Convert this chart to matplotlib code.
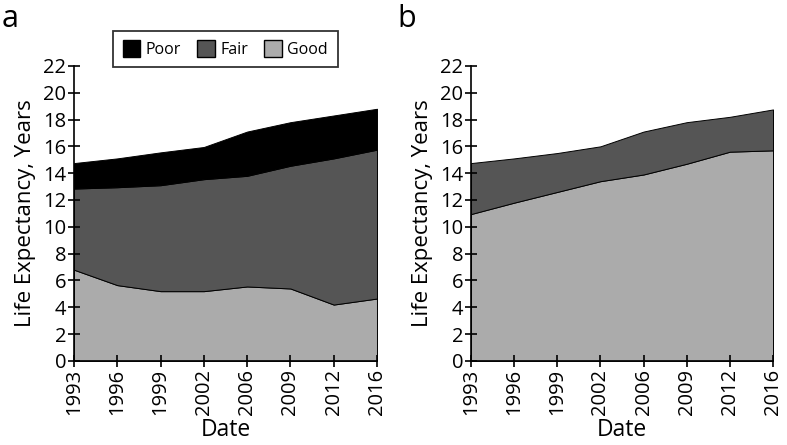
import matplotlib
matplotlib.use("Agg")
import matplotlib.pyplot as plt
from matplotlib.patches import Patch

plt.rcParams['font.family'] = ['Open Sans', 'DejaVu Sans']

years = ["1993", "1996", "1999", "2002", "2006", "2009", "2012", "2016"]

# Panel a (stacked components)
a_good = [6.8, 5.65, 5.2, 5.2, 5.55, 5.4, 4.2, 4.65]
a_fair = [6.05, 7.3, 7.9, 8.35, 8.25, 9.15, 10.9, 11.1]
a_poor = [1.9, 2.15, 2.45, 2.4, 3.3, 3.25, 3.2, 3.05]

# Panel b (stacked components)
b_good = [10.95, 11.8, 12.6, 13.4, 13.9, 14.7, 15.6, 15.7]
b_fair = [3.8, 3.3, 2.9, 2.6, 3.2, 3.1, 2.6, 3.05]

c_poor = "#000000"
c_fair = "#555555"
c_good = "#ababab"

fig = plt.figure(figsize=(7.87, 4.45), dpi=100)
axA = fig.add_axes([0.094, 0.189, 0.385, 0.663])
axB = fig.add_axes([0.5985, 0.189, 0.3837, 0.663])

x = list(range(len(years)))

axA.stackplot(x, a_good, a_fair, a_poor, colors=[c_good, c_fair, c_poor],
              edgecolor="black", linewidth=0.7)
axB.stackplot(x, b_good, b_fair, colors=[c_good, c_fair],
              edgecolor="black", linewidth=0.7)

for ax in (axA, axB):
    ax.set_xlim(0, len(years) - 1)
    ax.set_ylim(0, 22)
    ax.set_yticks(range(0, 23, 2))
    ax.set_xticks(x)
    ax.set_xticklabels(years, rotation=90)
    ax.tick_params(axis='both', direction='inout', length=8, width=1.2,
                   labelsize=14.5, pad=1.5)
    for s in ('top', 'right'):
        ax.spines[s].set_visible(False)
    for s in ('left', 'bottom'):
        ax.spines[s].set_linewidth(1.2)
    ax.set_ylabel("Life Expectancy, Years", fontsize=16, labelpad=5)
    ax.set_xlabel("Date", fontsize=16.5, labelpad=2)

handles = [Patch(facecolor=c_poor, edgecolor="black", label="Poor"),
           Patch(facecolor=c_fair, edgecolor="black", label="Fair"),
           Patch(facecolor=c_good, edgecolor="black", label="Good")]
leg = axA.legend(handles=handles, ncol=3, loc='lower center',
                 bbox_to_anchor=(0.5, 0.995), frameon=True, fancybox=False,
                 fontsize=11.5, handlelength=1.1, handleheight=1.2,
                 columnspacing=1.0, handletextpad=0.35, borderpad=0.6,
                 borderaxespad=0.0)
leg.get_frame().set_edgecolor("black")
leg.get_frame().set_linewidth(1.3)

fig.text(0.002, 0.99, "a", fontsize=22, va='top', ha='left')
fig.text(0.505, 0.99, "b", fontsize=22, va='top', ha='left')

fig.savefig("out.png", dpi=100)
